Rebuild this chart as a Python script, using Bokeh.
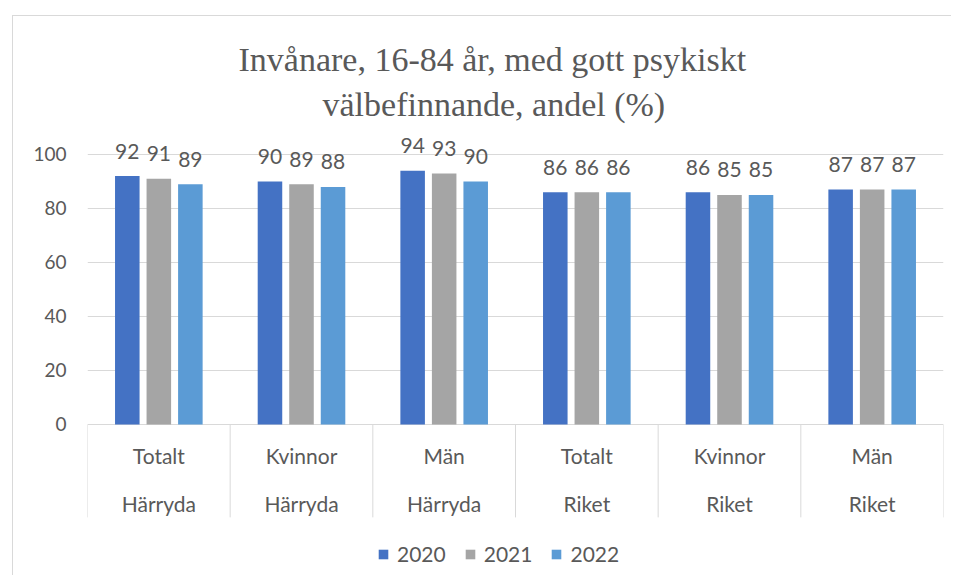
from bokeh.plotting import figure
from bokeh.layouts import column, row
from bokeh.models import Range1d, FixedTicker, Title, Legend, LegendItem, ColumnDataSource, Spacer
from bokeh.core.properties import value
from bokeh.embed import file_html
from bokeh.resources import INLINE

subgroups = ["Totalt", "Kvinnor", "Män", "Totalt", "Kvinnor", "Män"]
regions = ["Härryda", "Härryda", "Härryda", "Riket", "Riket", "Riket"]
years = ["2020", "2021", "2022"]
v2020 = [92, 90, 94, 86, 86, 87]
v2021 = [91, 89, 93, 86, 85, 87]
v2022 = [89, 88, 90, 86, 85, 87]
colors = ["#4472C4", "#A5A5A5", "#5B9BD5"]
yticks = [0, 20, 40, 60, 80, 100]
title_lines = ["Invånare, 16-84 år, med gott psykiskt", "välbefinnande, andel (%)"]

GRAY = "#595959"
LIGHT = "#D9D9D9"
FONT = value("Lato")

# frame reaches down over the category-label area; only 0..100 is gridded
p = figure(width=939, height=560, output_backend="svg", toolbar_location=None,
           x_range=Range1d(0, 6), y_range=Range1d(-56.3, 110),
           min_border_left=74, min_border_right=9, min_border_top=111, min_border_bottom=0)
p.styles = {"border-left": "1px solid #D9D9D9", "border-top": "1px solid #D9D9D9"}
p.outline_line_color = None
p.xaxis.visible = False
p.xgrid.visible = False
p.ygrid.ticker = FixedTicker(ticks=yticks)
p.ygrid.grid_line_color = LIGHT

n = len(subgroups)
centers = [i + 0.5 for i in range(n)]
offsets = [-0.221, 0.0, 0.221]
series = [v2020, v2021, v2022]
items = []
for yr, vals, col, off in zip(years, series, colors, offsets):
    src = ColumnDataSource(dict(x=[c + off for c in centers], top=vals,
                                lab=[str(v) for v in vals]))
    r = p.vbar(x="x", top="top", width=0.172, source=src, fill_color=col, line_color=None)
    p.text(x="x", y="top", text="lab", source=src, text_align="center", text_baseline="middle",
           y_offset=-25, text_font=FONT, text_font_size="21px", text_color=GRAY)
    items.append(LegendItem(label=yr, renderers=[r]))

# category axis: separators, two label rows
edges = list(range(n + 1))
p.segment(x0=edges, y0=[0] * len(edges), x1=edges, y1=[-34.4] * len(edges),
          line_color=LIGHT, line_width=1)
p.text(x=centers, y=[-11.5] * n, text=subgroups, text_align="center", text_baseline="middle",
       text_font=FONT, text_font_size="21px", text_color=GRAY)
p.text(x=centers, y=[-29.3] * n, text=regions, text_align="center", text_baseline="middle",
       text_font=FONT, text_font_size="21px", text_color=GRAY)

# y axis
ya = p.yaxis[0]
ya.ticker = FixedTicker(ticks=yticks)
ya.axis_line_color = None
ya.major_tick_line_color = None
ya.minor_tick_line_color = None
ya.major_tick_out = 0
ya.major_tick_in = 0
ya.major_label_standoff = 21
ya.major_label_text_font = "Lato"
ya.major_label_text_font_size = "19px"
ya.major_label_text_color = GRAY

# title (two lines), second line closest to the plot
for line, off, so in [(title_lines[1], 235, 10), (title_lines[0], 151, 2)]:
    t = Title(text=line, align="left", offset=off, text_font="Liberation Serif",
              text_font_size="34px", text_font_style="normal", text_color=GRAY, standoff=so)
    p.add_layout(t, "above")

legend = Legend(items=items, orientation="horizontal", location=(290, 10),
                glyph_width=12, glyph_height=12, label_standoff=8, spacing=18,
                padding=0, margin=0, border_line_color=None, background_fill_alpha=0,
                label_text_font="Lato", label_text_font_size="21px", label_text_color=GRAY)
p.add_layout(legend, "center")

layout = column(Spacer(height=15), row(Spacer(width=12), p))
open("out.html", "w").write(file_html(layout, INLINE))
